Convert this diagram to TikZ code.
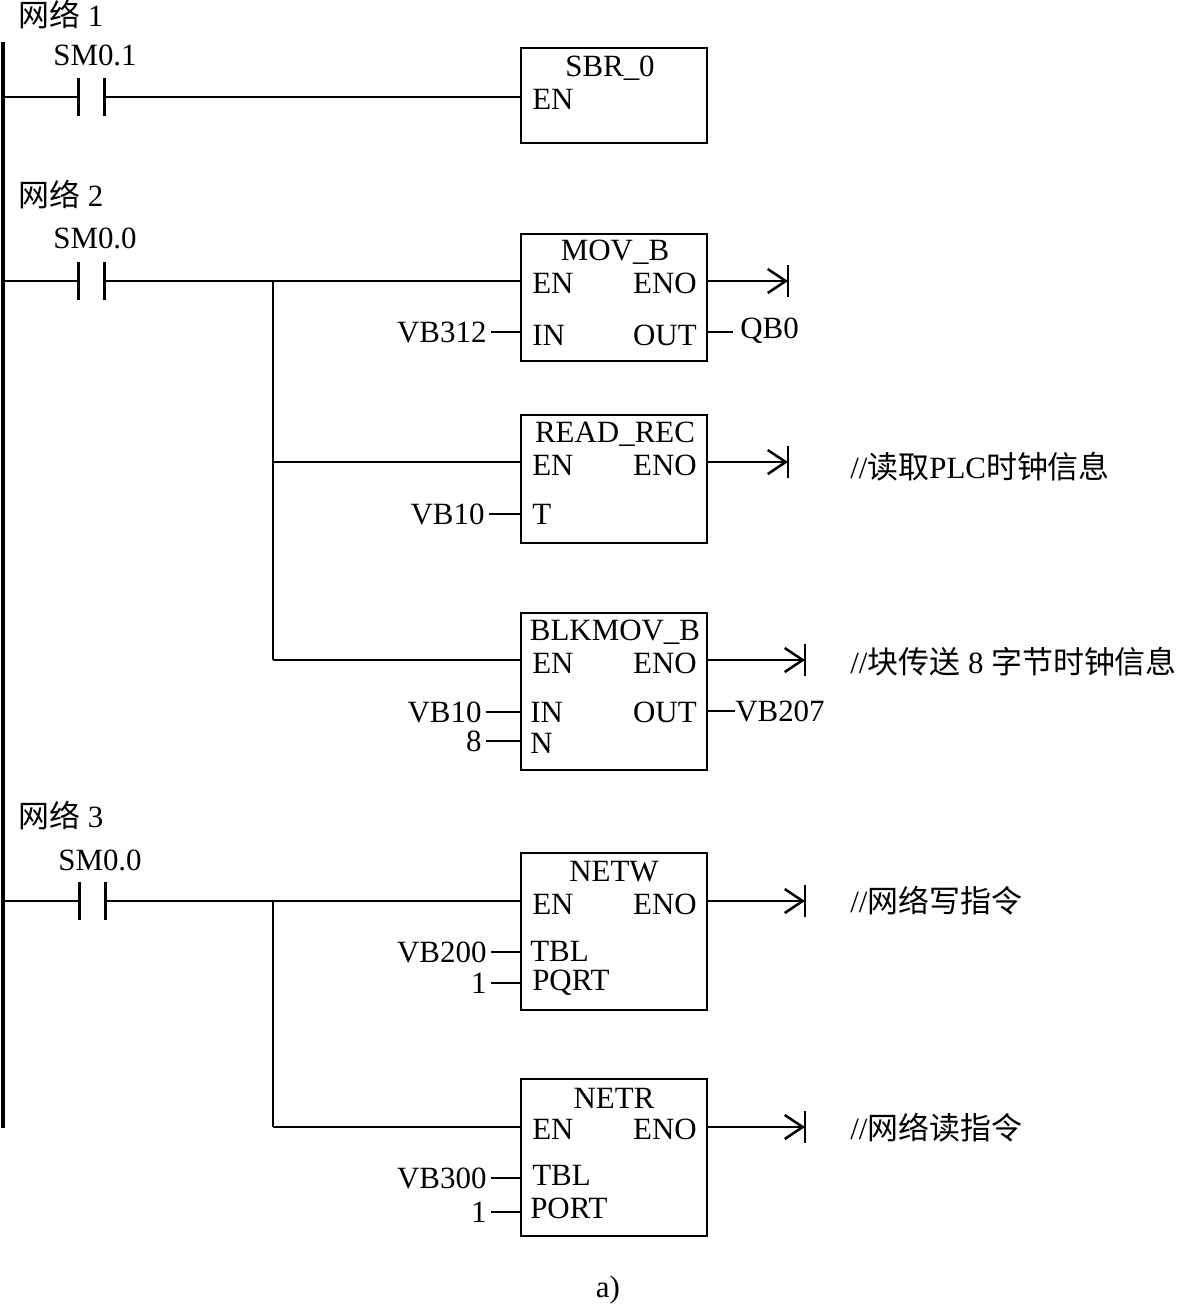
\documentclass[tikz,border=0pt]{standalone}
\usepackage{fontspec}
\setmainfont{Liberation Serif}
\newfontfamily\cjk{Noto Sans CJK SC}
\usetikzlibrary{arrows.meta}

\begin{document}
\begin{tikzpicture}[x=0.025cm,y=-0.025cm,
    font=\fontsize{22}{26}\selectfont,
    wire/.style={line width=1.8pt},
    fblock/.style={draw,line width=2pt,minimum width=4.65cm,inner sep=0},
    contact/.style={minimum width=0.65cm,minimum height=0.95cm,inner sep=0},
    txt/.style={inner sep=0},
    pinl/.style={anchor=west,inner sep=0},
    pinr/.style={anchor=east,inner sep=0},
    inp/.style={anchor=east,inner xsep=3pt,inner ysep=0},
    tip/.style={-{Straight Barb[length=0.45cm,width=0.6cm,line width=1.8pt]}}]
	\useasboundingbox (0,0) rectangle (1181,1305);

	% power rail
	\coordinate (railtop) at (3,42);
	\coordinate (railbot) at (3,1128);
	\draw[line width=2.2pt] (railtop) -- (railbot);

	% network 1
	\node[txt,anchor=west] (net1) at (18,15) {{\cjk 网络} 1};
	\node[txt] (sm01) at (95,55) {SM0.1};
	\node[contact] (k1) at (91.5,97) {};
	\draw[line width=2.2pt] (k1.north west) -- (k1.south west) (k1.north east) -- (k1.south east);
	\node[fblock,minimum height=2.375cm] (sbr) at (614,95.5) {};
	\node[txt] at (610,68) {SBR\_0};
	\node[pinl] at (532,99) {EN};
	\draw[wire] (k1.west -| railtop) -- (k1.west);
	\draw[wire] (k1.east) -- (k1.east -| sbr.west);

	% network 2
	\node[txt,anchor=west] (net2) at (18,195) {{\cjk 网络} 2};
	\node[txt] (sm00a) at (95,238) {SM0.0};
	\node[contact] (k2) at (91.5,281) {};
	\draw[line width=2.2pt] (k2.north west) -- (k2.south west) (k2.north east) -- (k2.south east);
	\coordinate (j2) at (273,281);
	\coordinate (j2b) at (273,462);
	\coordinate (j2c) at (273,660);
	\draw[wire] (k2.west -| railtop) -- (k2.west);

	\node[fblock,minimum height=3.175cm] (movb) at (614,297.5) {};
	\node[txt] at (615,252) {MOV\_B};
	\node[pinl] at (532,283) {EN};
	\node[pinr] at (697,283) {ENO};
	\node[pinl] at (532,335) {IN};
	\node[pinr] at (697,335) {OUT};
	\node[inp] (vb312) at (491,332) {VB312};
	\node[txt,anchor=west] (qb0) at (740,331) {QB0};
	\coordinate (e1) at (788,281);

	\node[fblock,minimum height=3.2cm] (readrec) at (614,479) {};
	\node[txt] at (615,434) {READ\_REC};
	\node[pinl] at (532,465) {EN};
	\node[pinr] at (697,465) {ENO};
	\node[pinl] at (532,514) {T};
	\node[inp] (vb10a) at (489,514) {VB10};
	\coordinate (e2) at (788,462);
	\node[txt,anchor=west] (c2) at (850,467) {//{\cjk 读取}PLC{\cjk 时钟信息}};

	\node[fblock,minimum height=3.925cm] (blkmov) at (614,691.5) {};
	\node[txt] at (615,632) {BLKMOV\_B};
	\node[pinl] at (532,663) {EN};
	\node[pinr] at (697,663) {ENO};
	\node[pinl] at (530,712) {IN};
	\node[pinr] at (697,712) {OUT};
	\node[pinl] at (530,743) {N};
	\node[inp] (vb10b) at (486,712) {VB10};
	\node[inp] (n8) at (486,741) {8};
	\node[txt,anchor=west] (vb207) at (735,711) {VB207};
	\coordinate (e3) at (805,660);
	\node[txt,anchor=west] (c3) at (850,662) {//{\cjk 块传送} 8 {\cjk 字节时钟信息}};

	\draw[wire] (k2.east) -- (k2.east -| movb.west);
	\draw[wire] (j2) -- (j2c);
	\draw[wire] (j2b) -- (j2b -| readrec.west);
	\draw[wire] (j2c) -- (j2c -| blkmov.west);
	\draw[wire] (vb312.east) -- (vb312.east -| movb.west);
	\draw[wire] (vb10a.east) -- (vb10a.east -| readrec.west);
	\draw[wire] (vb10b.east) -- (vb10b.east -| blkmov.west);
	\draw[wire] (n8.east) -- (n8.east -| blkmov.west);
	\draw[wire] (movb.east |- 0,332) -- (733,332);
	\draw[wire] (blkmov.east |- vb207.west) -- (vb207.west);
	\draw[wire,tip] (e1 -| movb.east) -- (e1);
	\draw[wire,tip] (e2 -| readrec.east) -- (e2);
	\draw[wire,tip] (e3 -| blkmov.east) -- (e3);
	\draw[wire] (e1) ++(0,-16) -- ++(0,32);
	\draw[wire] (e2) ++(0,-16) -- ++(0,32);
	\draw[wire] (e3) ++(0,-16) -- ++(0,32);

	% network 3
	\node[txt,anchor=west] (net3) at (18,815) {{\cjk 网络} 3};
	\node[txt] (sm00b) at (100,860) {SM0.0};
	\node[contact] (k3) at (92.5,901) {};
	\draw[line width=2.2pt] (k3.north west) -- (k3.south west) (k3.north east) -- (k3.south east);
	\coordinate (j3) at (273,901);
	\coordinate (j3b) at (273,1127);
	\draw[wire] (k3.west -| railtop) -- (k3.west);

	\node[fblock,minimum height=3.925cm] (netw) at (614,931.5) {};
	\node[txt] at (614,872) {NETW};
	\node[pinl] at (532,904) {EN};
	\node[pinr] at (697,904) {ENO};
	\node[pinl] at (530,951) {TBL};
	\node[pinl] at (532,983) {PQRT};
	\node[inp] (vb200) at (491,952) {VB200};
	\node[inp] (p1) at (491,983) {1};
	\coordinate (e4) at (805,901);
	\node[txt,anchor=west] (c4) at (850,901) {//{\cjk 网络写指令}};

	\node[fblock,minimum height=3.925cm] (netr) at (614,1157.5) {};
	\node[txt] at (614,1098) {NETR};
	\node[pinl] at (532,1129) {EN};
	\node[pinr] at (697,1129) {ENO};
	\node[pinl] at (532,1175) {TBL};
	\node[pinl] at (530,1208) {PORT};
	\node[inp] (vb300) at (491,1178) {VB300};
	\node[inp] (p2) at (491,1212) {1};
	\coordinate (e5) at (805,1127);
	\node[txt,anchor=west] (c5) at (850,1128) {//{\cjk 网络读指令}};

	\draw[wire] (k3.east) -- (k3.east -| netw.west);
	\draw[wire] (j3) -- (j3b);
	\draw[wire] (j3b) -- (j3b -| netr.west);
	\draw[wire] (vb200.east) -- (vb200.east -| netw.west);
	\draw[wire] (p1.east) -- (p1.east -| netw.west);
	\draw[wire] (vb300.east) -- (vb300.east -| netr.west);
	\draw[wire] (p2.east) -- (p2.east -| netr.west);
	\draw[wire,tip] (e4 -| netw.east) -- (e4);
	\draw[wire,tip] (e5 -| netr.east) -- (e5);
	\draw[wire] (e4) ++(0,-16) -- ++(0,32);
	\draw[wire] (e5) ++(0,-16) -- ++(0,32);

	\node[txt] (cap) at (608,1290) {a)};
\end{tikzpicture}
\end{document}
